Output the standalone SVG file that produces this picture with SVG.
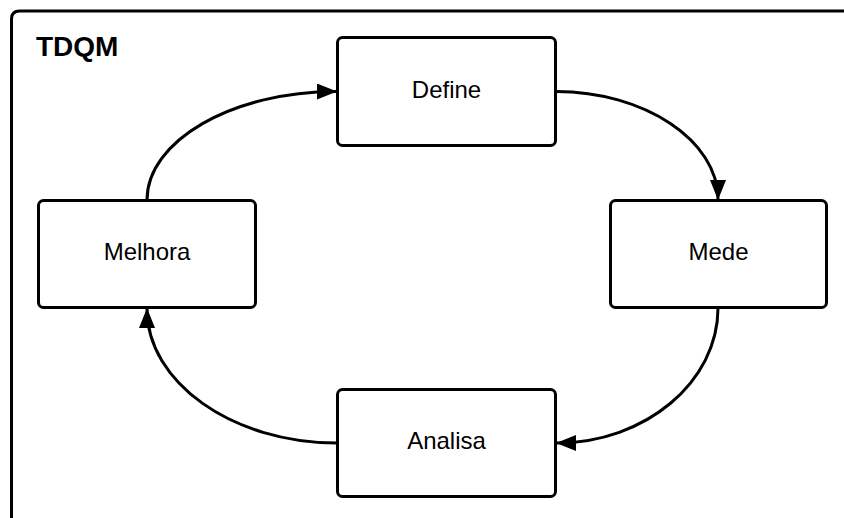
<svg xmlns="http://www.w3.org/2000/svg" width="844" height="518" viewBox="0 0 844 518">
  <style>
    .box { fill: #ffffff; stroke: #000000; stroke-width: 3; }
    .label { font-family: "Liberation Sans", Arial, sans-serif; font-size: 24px; fill: #000000; text-anchor: middle; }
    .title { font-family: "Liberation Sans", Arial, sans-serif; font-size: 28px; font-weight: bold; fill: #000000; }
    .edge { fill: none; stroke: #000000; stroke-width: 3; marker-end: url(#arrow); }
  </style>
  <defs>
    <marker id="arrow" viewBox="0 0 20 16" refX="19" refY="8" markerWidth="20" markerHeight="16" markerUnits="userSpaceOnUse" orient="auto">
      <path d="M0,0 L20,8 L0,16 Z" fill="#000000"/>
    </marker>
  </defs>
  <rect width="844" height="518" fill="#ffffff"/>

  <!-- outer frame, open to the right and bottom -->
  <g id="frame">
    <path d="M11.5,530 L11.5,19 Q11.5,11 19.5,11 L860,11" fill="none" stroke="#000000" stroke-width="3"/>
    <text class="title" x="36" y="56">TDQM</text>
  </g>

  <!-- connectors -->
  <g id="connectors">
    <path class="edge" d="M556,91.5 C645,91.5 718,141 718,199"/>
    <path class="edge" d="M718,308 C718,382 645,443 557,443"/>
    <path class="edge" d="M337,443 C232,443 147,382 147,309"/>
    <path class="edge" d="M147,200 C147,141 232,91.5 336,91.5"/>
  </g>

  <g id="define">
    <rect class="box" x="337.5" y="37.5" width="218" height="108" rx="5"/>
    <text class="label" x="446.5" y="98">Define</text>
  </g>
  <g id="mede">
    <rect class="box" x="610.5" y="200.5" width="216" height="107" rx="5"/>
    <text class="label" x="718.5" y="260">Mede</text>
  </g>
  <g id="analisa">
    <rect class="box" x="337.5" y="389.5" width="218" height="107" rx="5"/>
    <text class="label" x="446.5" y="449">Analisa</text>
  </g>
  <g id="melhora">
    <rect class="box" x="38.5" y="200.5" width="217" height="107" rx="5"/>
    <text class="label" x="147" y="260">Melhora</text>
  </g>
</svg>
